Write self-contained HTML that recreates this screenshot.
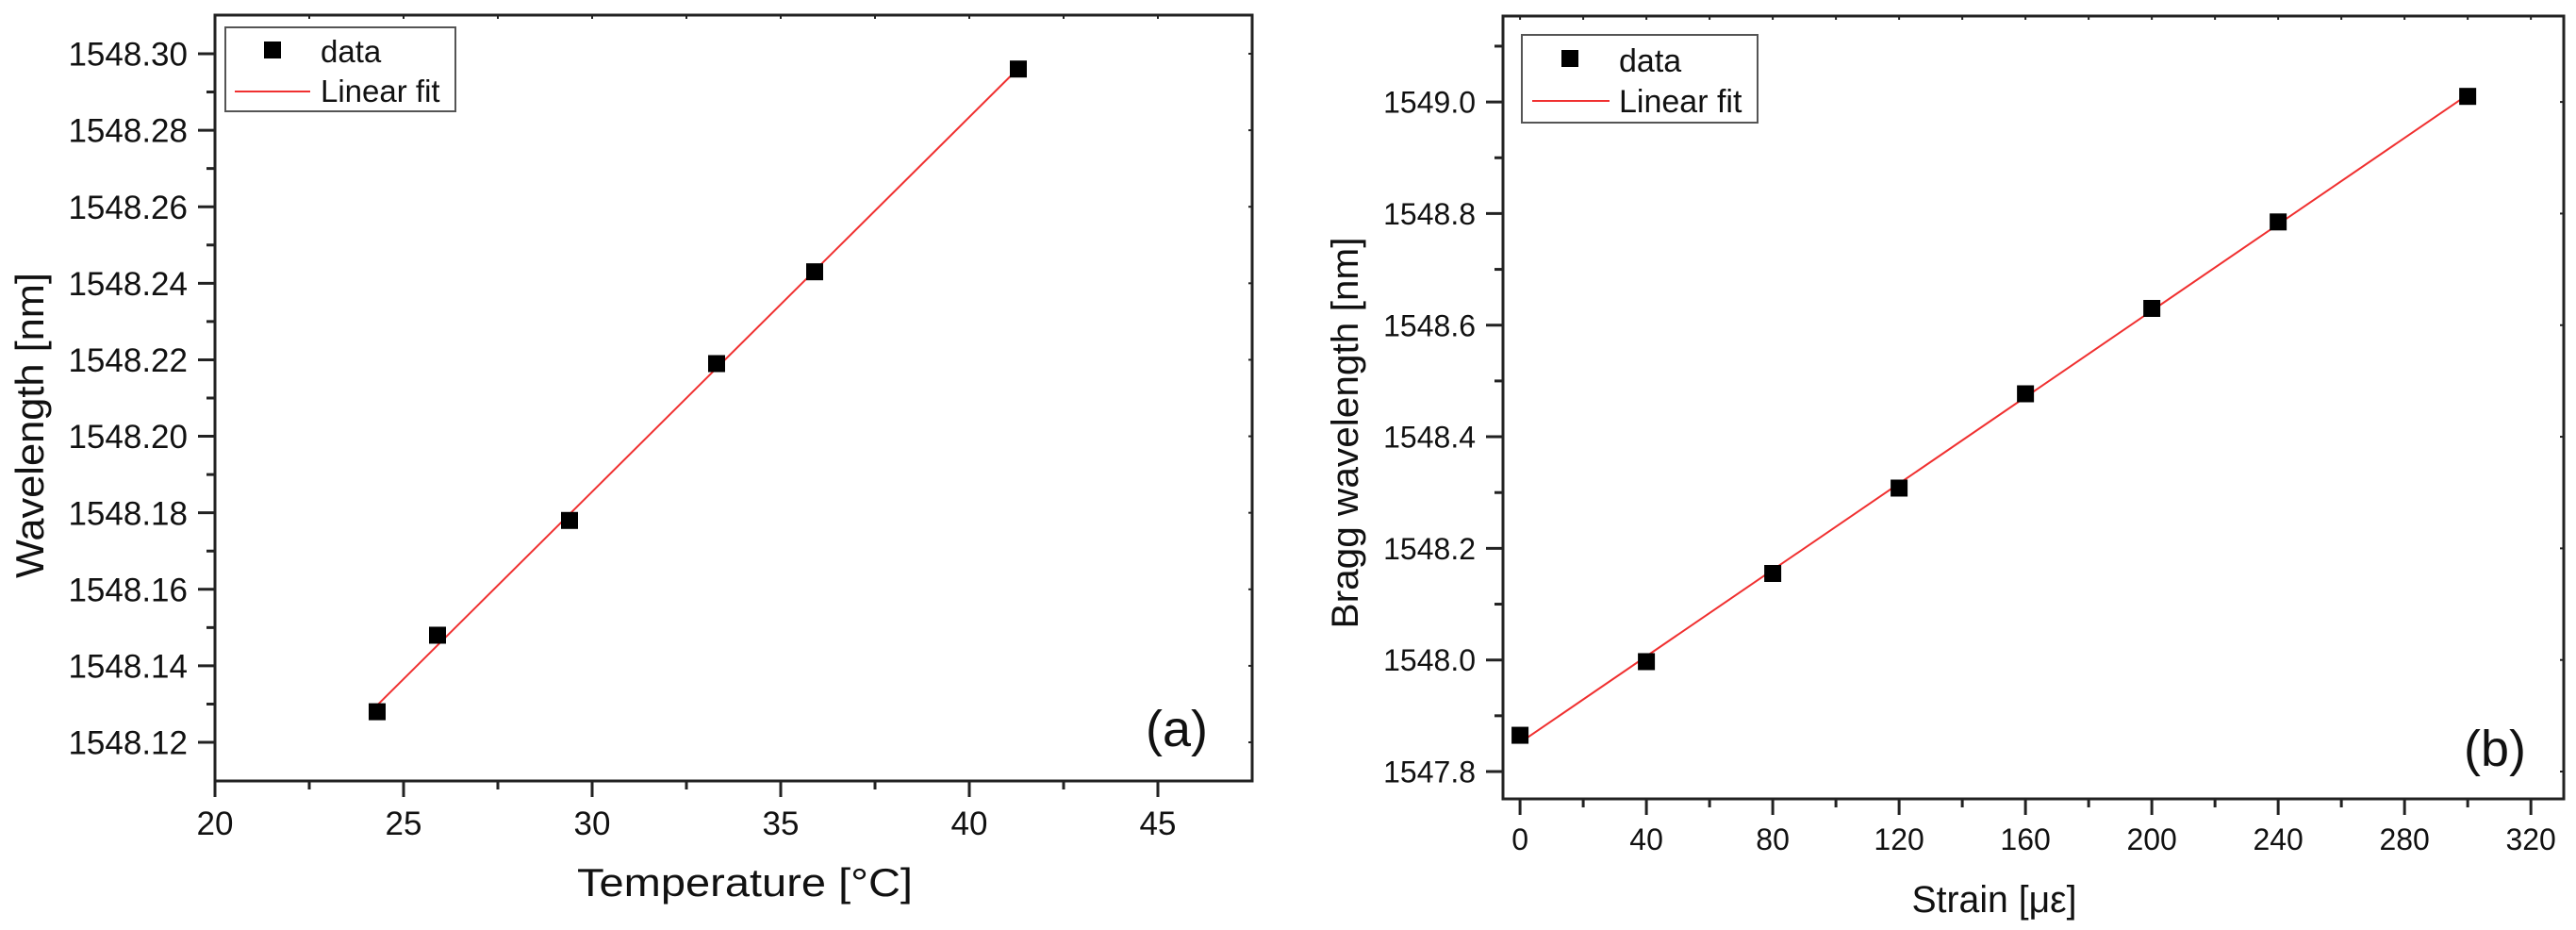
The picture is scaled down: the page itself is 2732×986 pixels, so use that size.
<!DOCTYPE html>
<html><head><meta charset="utf-8"><style>
html,body{margin:0;padding:0;background:#fff;}
svg{display:block;font-family:"Liberation Sans",Arial,sans-serif;}
</style></head><body>
<svg id="fig" width="2732" height="986" viewBox="0 0 2732 986" xmlns="http://www.w3.org/2000/svg">
<g id="chartA"></g>
<g id="chartB"></g>
</svg>
<script>
// Chart (a) data
const tempX = [24.3, 25.9, 29.4, 33.3, 35.9, 41.3];
const tempY = [1548.128, 1548.148, 1548.178, 1548.219, 1548.243, 1548.296];
const tempXTicks = [20, 25, 30, 35, 40, 45];
const tempYTicks = [1548.12, 1548.14, 1548.16, 1548.18, 1548.20, 1548.22, 1548.24, 1548.26, 1548.28, 1548.30];
const tempYLabels = ["1548.12","1548.14","1548.16","1548.18","1548.20","1548.22","1548.24","1548.26","1548.28","1548.30"];
// Chart (b) data
const strainX = [0, 40, 80, 120, 160, 200, 240, 300];
const strainY = [1547.865, 1547.997, 1548.155, 1548.308, 1548.477, 1548.630, 1548.785, 1549.010];
const strainXTicks = [0, 40, 80, 120, 160, 200, 240, 280, 320];
const strainYTicks = [1547.8, 1548.0, 1548.2, 1548.4, 1548.6, 1548.8, 1549.0];
const strainYLabels = ["1547.8","1548.0","1548.2","1548.4","1548.6","1548.8","1549.0"];

const NS = "http://www.w3.org/2000/svg";
function mk(parent, tag, attrs, text){
  const e = document.createElementNS(NS, tag);
  for (const k in attrs) e.setAttribute(k, attrs[k]);
  if (text !== undefined) e.textContent = text;
  parent.appendChild(e);
  return e;
}
function fit(xs, ys){
  const n = xs.length; let sx=0, sy=0, sxx=0, sxy=0;
  for (let i=0;i<n;i++){sx+=xs[i];sy+=ys[i];sxx+=xs[i]*xs[i];sxy+=xs[i]*ys[i];}
  const b = (n*sxy-sx*sy)/(n*sxx-sx*sx); const a = (sy-b*sx)/n;
  return [a,b];
}

function drawChart(g, cfg){
  const {L,R,T,B,x0,x1,y0,y1} = cfg;
  const sx = v => L + (v-x0)/(x1-x0)*(R-L);
  const sy = v => B - (v-y0)/(y1-y0)*(B-T);
  // frame
  const fr = mk(g,'rect',{x:L,y:T,width:R-L,height:B-T,fill:'none',stroke:'#222','stroke-width':3});
  
  
  // x ticks
  const xt = cfg.xTicks;
  const xstep = xt[1]-xt[0];
  for (let i=0;i<xt.length;i++){
    const v = xt[i], x = sx(v);
    const t = mk(g,'line',{x1:x,y1:B,x2:x,y2:B+17,stroke:'#222','stroke-width':3});
    
    
    const lb = mk(g,'text',{x:x,y:cfg.xLabelY,'font-size':cfg.tickFont,'text-anchor':'middle',fill:'#111'}, String(v));
    
    
    const m = v + xstep/2;
    if (sx(m) < R-2){
      const mt = mk(g,'line',{x1:sx(m),y1:B,x2:sx(m),y2:B+9,stroke:'#222','stroke-width':3});
      
      
      mk(g,'line',{x1:sx(m),y1:T,x2:sx(m),y2:T+4,stroke:'#222','stroke-width':2});
    }
    if (v > x0) mk(g,'line',{x1:x,y1:T,x2:x,y2:T+4,stroke:'#222','stroke-width':2});
  }
  // y ticks
  const yt = cfg.yTicks;
  const ystep = yt[1]-yt[0];
  for (let i=0;i<yt.length;i++){
    const v = yt[i], y = sy(v);
    const t = mk(g,'line',{x1:L-18,y1:y,x2:L,y2:y,stroke:'#222','stroke-width':3});
    
    
    const lb = mk(g,'text',{x:L-29,y:y+cfg.tickFont*0.36,'font-size':cfg.tickFont,'text-anchor':'end',fill:'#111'}, cfg.yLabels[i]);
    
    
    mk(g,'line',{x1:R-4,y1:y,x2:R,y2:y,stroke:'#222','stroke-width':2});
    for (const m of [v-ystep/2, v+ystep/2]){
      if (i>0 && m===v-ystep/2) continue;
      if (sy(m) > T+2 && sy(m) < B-2){
        const mt = mk(g,'line',{x1:L-9,y1:sy(m),x2:L,y2:sy(m),stroke:'#222','stroke-width':3});
        
        
      }
    }
  }
  // fit line
  const [a,b] = fit(cfg.xs, cfg.ys);
  const xa = cfg.xs[0], xb = cfg.xs[cfg.xs.length-1];
  const fl = mk(g,'line',{x1:sx(xa),y1:sy(a+b*xa),x2:sx(xb),y2:sy(a+b*xb),stroke:'#f03030','stroke-width':2});
  
  
  // points
  for (let i=0;i<cfg.xs.length;i++){
    const p = mk(g,'rect',{x:sx(cfg.xs[i])-9,y:sy(cfg.ys[i])-9,width:18,height:18,fill:'#000'});
    
    
  }
  // legend
  const lg = cfg.leg;
  const lgG = mk(g,'g',{});
  
  
  mk(lgG,'rect',{x:lg.x,y:lg.y,width:lg.w,height:lg.h,fill:'#fff',stroke:'#555','stroke-width':2});
  const lm = mk(lgG,'rect',{x:lg.mx-9,y:lg.my-9,width:18,height:18,fill:'#000'});
  
  
  const t1 = mk(lgG,'text',{x:lg.tx,y:lg.b1,'font-size':lg.fs,fill:'#111'},'data');
  
  
  const ll = mk(lgG,'line',{x1:lg.lx1,y1:lg.ly,x2:lg.lx2,y2:lg.ly,stroke:'#f03030','stroke-width':2});
  
  
  const t2 = mk(lgG,'text',{x:lg.tx,y:lg.b2,'font-size':lg.fs,fill:'#111'},'Linear fit');
  
  
  // titles
  const xtT = mk(g,'text',{x:cfg.xt.x,y:cfg.xt.y,'font-size':cfg.xt.fs,'text-anchor':'middle',fill:'#111',textLength:cfg.xt.len,lengthAdjust:'spacingAndGlyphs'},cfg.xt.text);
  
  
  const ytT = mk(g,'text',{x:0,y:0,'font-size':cfg.yt.fs,'text-anchor':'middle',fill:'#111',textLength:cfg.yt.len,lengthAdjust:'spacingAndGlyphs',transform:`translate(${cfg.yt.x},${cfg.yt.y}) rotate(-90)`},cfg.yt.text);
  
  
  const pl = mk(g,'text',{x:cfg.pl.x,y:cfg.pl.y,'font-size':cfg.pl.fs,fill:'#111'},cfg.pl.text);
  
  
}

drawChart(document.getElementById('chartA'), {
  L:228, R:1328, T:16, B:828, x0:20, x1:47.5, y0:1548.1099, y1:1548.3101,
  xTicks: tempXTicks, yTicks: tempYTicks, yLabels: tempYLabels,
  xs: tempX, ys: tempY, tickFont:35, xLabelY:885,
  leg:{x:239,y:29,w:244,h:89,mx:289,my:53,tx:340,b1:66,b2:108,lx1:249,lx2:329,ly:97,fs:33},
  xt:{x:790,y:950,fs:42,len:356,text:'Temperature [°C]'},
  yt:{x:46,y:451,fs:42,len:324,text:'Wavelength [nm]'},
  pl:{x:1215,y:791,fs:54,text:'(a)'}
});
drawChart(document.getElementById('chartB'), {
  L:1594, R:2719, T:17, B:847, x0:-5.4, x1:330.4, y0:1547.751, y1:1549.154,
  xTicks: strainXTicks, yTicks: strainYTicks, yLabels: strainYLabels,
  xs: strainX, ys: strainY, tickFont:32, xLabelY:901,
  leg:{x:1614,y:37,w:250,h:93,mx:1665,my:62,tx:1717,b1:76,b2:119,lx1:1625,lx2:1707,ly:107,fs:34},
  xt:{x:2115,y:967,fs:40,len:175,text:'Strain [με]'},
  yt:{x:1440,y:459,fs:40,len:415,text:'Bragg wavelength [nm]'},
  pl:{x:2613,y:812,fs:54,text:'(b)'}
});
</script>
</body></html>
